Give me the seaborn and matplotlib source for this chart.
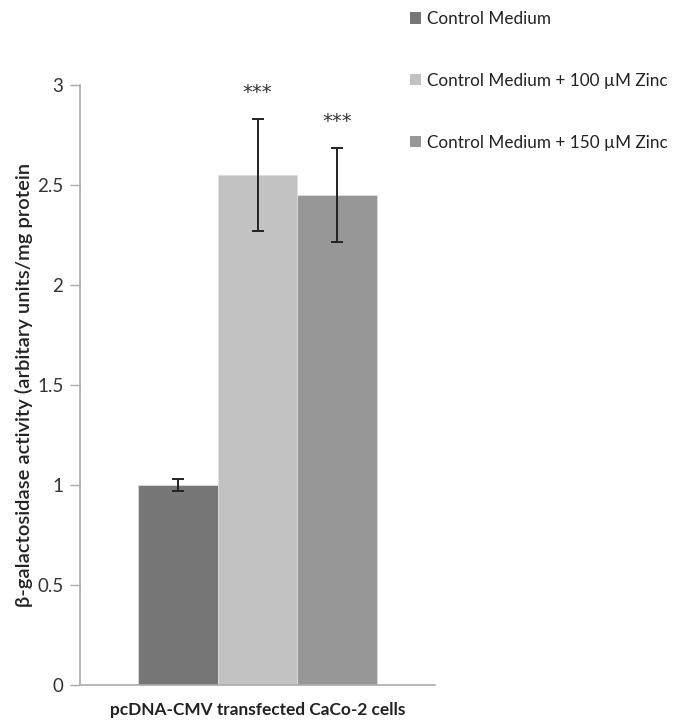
import matplotlib
matplotlib.use("Agg")
import matplotlib.pyplot as plt
import seaborn as sns
import pandas as pd
from matplotlib.patches import Patch

# Data
group = "pcDNA-CMV transfected CaCo-2 cells"
treatments = ["Control Medium", "Control Medium + 100 \u00b5M Zinc", "Control Medium + 150 \u00b5M Zinc"]
activity = [1.00, 2.55, 2.45]
sem = [0.03, 0.28, 0.235]
significance = ["", "***", "***"]
colors = ["#777777", "#c2c2c2", "#979797"]

sns.set_theme(style="white")
plt.rcParams["font.family"] = ["Lato", "DejaVu Sans"]

df = pd.DataFrame({"group": [group] * 3, "treatment": treatments, "activity": activity})

fig = plt.figure(figsize=(6.73, 7.2), dpi=100)
ax = fig.add_axes([80 / 673, 1 - 685 / 720, 355 / 673, 600 / 720])

sns.barplot(data=df, x="group", y="activity", hue="treatment", hue_order=treatments,
            palette=colors, errorbar=None, width=0.674, ax=ax, legend=False,
            edgecolor="#dddddd", linewidth=0.6)

# Error bars and significance marks at each bar centre
for patch, val, err, sig in zip(ax.patches, activity, sem, significance):
    xc = patch.get_x() + patch.get_width() / 2
    ax.errorbar(xc, val, yerr=err, fmt="none", ecolor="#222222", elinewidth=1.4,
                capsize=4.5, capthick=1.4)
    if sig:
        ax.text(xc, val + err + 0.105, sig, ha="center", va="baseline", fontsize=14,
                family="DejaVu Sans", color="#333333")

ax.set_ylim(0, 3)
ax.set_xlim(-0.5, 0.5)
ax.set_yticks([0, 0.5, 1, 1.5, 2, 2.5, 3])
ax.set_yticklabels(["0", "0.5", "1", "1.5", "2", "2.5", "3"])
ax.tick_params(axis="y", which="major", direction="out", length=7, width=1,
               color="#aaaaaa", labelsize=13.5, labelcolor="#333333", pad=5, left=True)
ax.tick_params(axis="x", length=0, labelbottom=False)

for side in ["top", "right"]:
    ax.spines[side].set_visible(False)
for side in ["left", "bottom"]:
    ax.spines[side].set_color("#aaaaaa")
    ax.spines[side].set_linewidth(1.2)

ax.set_ylabel("\u03b2-galactosidase activity (arbitary units/mg protein", fontsize=14.5,
              fontweight="semibold", color="#222222", labelpad=3)
ax.set_xlabel(group, fontsize=12.4, fontweight="bold", color="#222222", labelpad=12)

handles = [Patch(facecolor=c, edgecolor="none") for c in colors]
fig.legend(handles, treatments, loc="upper left", bbox_to_anchor=(410 / 673, 1 - 11 / 720),
           frameon=False, fontsize=12.3, handlelength=0.62, handleheight=0.62,
           handletextpad=0.35, labelspacing=2.69, borderaxespad=0, borderpad=0,
           labelcolor="#222222")

fig.savefig("out.png", dpi=100)
